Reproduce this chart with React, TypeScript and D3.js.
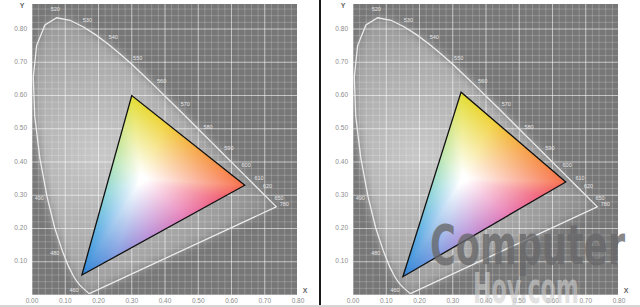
import React, { useMemo } from "react";
import * as d3 from "d3";

const W = 640;
const H = 307;

// CIE 1931 spectral locus (wavelength nm, x, y)
const wavelengths = [380, 400, 420, 430, 440, 450, 460, 465, 470, 475, 480, 485, 490, 495, 500, 505, 510, 515, 520, 525, 530, 535, 540, 545, 550, 555, 560, 565, 570, 575, 580, 585, 590, 595, 600, 605, 610, 620, 630, 640, 650, 680, 700, 780];
const locusX = [0.1741, 0.1733, 0.1714, 0.1689, 0.1644, 0.1566, 0.144, 0.1355, 0.1241, 0.1096, 0.0913, 0.0687, 0.0454, 0.0235, 0.0082, 0.0039, 0.0139, 0.0389, 0.0743, 0.1142, 0.1547, 0.1929, 0.2296, 0.2658, 0.3016, 0.3373, 0.3731, 0.4087, 0.4441, 0.4788, 0.5125, 0.5448, 0.5752, 0.6029, 0.627, 0.6482, 0.6658, 0.6915, 0.7079, 0.719, 0.726, 0.732, 0.7347, 0.7347];
const locusY = [0.005, 0.0048, 0.0051, 0.0069, 0.0109, 0.0177, 0.0297, 0.0399, 0.0578, 0.0868, 0.1327, 0.2007, 0.295, 0.4127, 0.5384, 0.6548, 0.7502, 0.812, 0.8338, 0.8262, 0.8059, 0.7816, 0.7543, 0.7243, 0.6923, 0.6589, 0.6245, 0.5896, 0.5547, 0.5202, 0.4866, 0.4544, 0.4242, 0.3965, 0.3725, 0.3514, 0.334, 0.3083, 0.292, 0.2809, 0.274, 0.268, 0.2653, 0.2653];
const locusLabels = [460, 480, 490, 520, 530, 540, 550, 560, 570, 580, 590, 600, 610, 620, 650, 780];

const xTicks = [0, 0.1, 0.2, 0.3, 0.4, 0.5, 0.6, 0.7, 0.8];
const xTickLabels = ["0.00", "0.10", "0.20", "0.30", "0.40", "0.50", "0.60", "0.70", "0.80"];
const yTicks = [0.1, 0.2, 0.3, 0.4, 0.5, 0.6, 0.7, 0.8];
const yTickLabels = ["0.10", "0.20", "0.30", "0.40", "0.50", "0.60", "0.70", "0.80"];

// gamut triangles [R, G, B]
const gamutLeftX = [0.64, 0.3, 0.15];
const gamutLeftY = [0.33, 0.6, 0.06];
const gamutRightX = [0.64, 0.325, 0.15];
const gamutRightY = [0.34, 0.61, 0.055];
const whitePoint = [0.33, 0.35];

const panelOffsets = [0, 321];

// perimeter colours of the gamut fill (edge G->R, R->B, B->G)
const edgeGR_t = [0, 0.3, 0.6, 1];
const edgeGR_c = ["#e2dd34", "#f0d23a", "#f6a546", "#f7704c"];
const edgeRB_t = [0, 0.15, 0.35, 0.6, 0.8, 1];
const edgeRB_c = ["#f7704c", "#f0627a", "#e77ab4", "#b890d8", "#7f9ce0", "#2e84d6"];
const edgeBG_t = [0, 0.2, 0.45, 0.65, 0.85, 1];
const edgeBG_c = ["#2e84d6", "#52a8e2", "#8cd4d8", "#bae6b0", "#d8e680", "#e2dd34"];

const x = d3.scaleLinear().domain([0, 0.8]).range([32, 298]);
const y = d3.scaleLinear().domain([0, 0.8]).range([295, 29]);
const PLOT = { x0: 32, x1: 297, y0: 4, y1: 295 };

function cross(ax: number, ay: number, bx: number, by: number) {
  return ax * by - ay * bx;
}

function makeGamutImage(gx: number[], gy: number[]) {
  const pts = gx.map((v, i) => [x(v), y(gy[i])]);
  const minX = Math.floor(d3.min(pts, (p) => p[0])!) - 1;
  const maxX = Math.ceil(d3.max(pts, (p) => p[0])!) + 1;
  const minY = Math.floor(d3.min(pts, (p) => p[1])!) - 1;
  const maxY = Math.ceil(d3.max(pts, (p) => p[1])!) + 1;
  const w = maxX - minX;
  const h = maxY - minY;
  const canvas = document.createElement("canvas");
  canvas.width = w;
  canvas.height = h;
  const ctx = canvas.getContext("2d");
  if (!ctx) return null;
  const img = ctx.createImageData(w, h);
  const R = { x: gx[0], y: gy[0] };
  const G = { x: gx[1], y: gy[1] };
  const B = { x: gx[2], y: gy[2] };
  const edges = [
    { a: G, b: R, s: d3.scaleLinear<string>().domain(edgeGR_t).range(edgeGR_c).interpolate(d3.interpolateRgb) },
    { a: R, b: B, s: d3.scaleLinear<string>().domain(edgeRB_t).range(edgeRB_c).interpolate(d3.interpolateRgb) },
    { a: B, b: G, s: d3.scaleLinear<string>().domain(edgeBG_t).range(edgeBG_c).interpolate(d3.interpolateRgb) },
  ];
  const cx = whitePoint[0];
  const cy = whitePoint[1];
  for (let j = 0; j < h; j++) {
    for (let i = 0; i < w; i++) {
      const px = x.invert(minX + i + 0.5);
      const py = y.invert(minY + j + 0.5);
      const ux = px - cx;
      const uy = py - cy;
      let best = Infinity;
      let col = "#ffffff";
      if (Math.abs(ux) + Math.abs(uy) > 1e-9) {
        for (const e of edges) {
          const dx = e.b.x - e.a.x;
          const dy = e.b.y - e.a.y;
          const den = cross(ux, uy, dx, dy);
          if (Math.abs(den) < 1e-12) continue;
          const wx = e.a.x - cx;
          const wy = e.a.y - cy;
          const s = cross(wx, wy, dx, dy) / den;
          const t = cross(wx, wy, ux, uy) / den;
          if (s > 0 && t >= -0.001 && t <= 1.001 && s < best) {
            best = s;
            col = e.s(Math.max(0, Math.min(1, t)));
          }
        }
      }
      const r = best === Infinity ? 0 : 1 / best;
      const m = Math.pow(Math.max(0, Math.min(1, (r - 0.06) / 0.94)), 1.0);
      const c = d3.rgb(col);
      const k = (j * w + i) * 4;
      img.data[k] = 255 - m * (255 - c.r);
      img.data[k + 1] = 255 - m * (255 - c.g);
      img.data[k + 2] = 255 - m * (255 - c.b);
      img.data[k + 3] = 255;
    }
  }
  ctx.putImageData(img, 0, 0);
  return { url: canvas.toDataURL(), x: minX, y: minY, w, h };
}

const locusPts: [number, number][] = locusX.map((v, i) => [x(v), y(locusY[i])]);

function labelPos(wl: number) {
  const i = wavelengths.indexOf(wl);
  const p = locusPts[i];
  const prev = locusPts[Math.max(0, i - 1)];
  const next = locusPts[Math.min(locusPts.length - 1, i + 1)];
  if (wl === 780) {
    return [p[0] + 8, p[1] - 2];
  }
  const dx = next[0] - prev[0];
  const dy = next[1] - prev[1];
  const len = Math.hypot(dx, dy) || 1;
  const nx = dy / len;
  const ny = -dx / len;
  return [p[0] + nx * 8, p[1] + ny * 8];
}

function Panel({ idx, gx, gy, watermark }: { idx: number; gx: number[]; gy: number[]; watermark: boolean }) {
  const img = useMemo(() => makeGamutImage(gx, gy), [gx, gy]);
  const minorX = d3.range(0, 0.801, 0.02);
  const minorY = d3.range(0, 0.88, 0.02);
  const majorX = d3.range(0, 0.801, 0.1);
  const majorY = d3.range(0, 0.88, 0.1);
  const locusPath = d3.line()(locusPts)! + "Z";
  const triPts = gx.map((v, i) => [x(v), y(gy[i])] as [number, number]);
  const triPath = d3.line()(triPts)! + "Z";
  return (
    <g transform={`translate(${panelOffsets[idx]},0)`}>
      <defs>
        <clipPath id={`plot-${idx}`}>
          <rect x={PLOT.x0} y={PLOT.y0} width={PLOT.x1 - PLOT.x0} height={PLOT.y1 - PLOT.y0} />
        </clipPath>
        <clipPath id={`tri-${idx}`}>
          <path d={triPath} />
        </clipPath>
        <radialGradient id={`glow-${idx}`} gradientUnits="userSpaceOnUse" cx={x(0.2)} cy={y(0.42)} r={190}>
          <stop offset="0" stopColor="#fff" stopOpacity={0.6} />
          <stop offset="0.5" stopColor="#fff" stopOpacity={0.38} />
          <stop offset="1" stopColor="#fff" stopOpacity={0.12} />
        </radialGradient>
        <filter id={`blur-${idx}`} x="-20%" y="-20%" width="140%" height="140%">
          <feGaussianBlur stdDeviation={5} />
        </filter>
      </defs>
      <g clipPath={`url(#plot-${idx})`}>
        <rect x={PLOT.x0} y={PLOT.y0} width={PLOT.x1 - PLOT.x0} height={PLOT.y1 - PLOT.y0} fill="#777777" />
        <path d={locusPath} fill={`url(#glow-${idx})`} filter={`url(#blur-${idx})`} />
        {minorX.map((v, i) => (
          <line key={`mx${i}`} x1={x(v)} x2={x(v)} y1={PLOT.y0} y2={PLOT.y1} stroke="#fff" strokeOpacity={0.2} strokeWidth={1} />
        ))}
        {minorY.map((v, i) => (
          <line key={`my${i}`} y1={y(v)} y2={y(v)} x1={PLOT.x0} x2={PLOT.x1} stroke="#fff" strokeOpacity={0.2} strokeWidth={1} />
        ))}
        {majorX.map((v, i) => (
          <line key={`Mx${i}`} x1={x(v)} x2={x(v)} y1={PLOT.y0} y2={PLOT.y1} stroke="#fff" strokeOpacity={0.45} strokeWidth={1} />
        ))}
        {majorY.map((v, i) => (
          <line key={`My${i}`} y1={y(v)} y2={y(v)} x1={PLOT.x0} x2={PLOT.x1} stroke="#fff" strokeOpacity={0.45} strokeWidth={1} />
        ))}
        <path d={locusPath} fill="none" stroke="#ececec" strokeWidth={1.3} />
        {locusLabels.map((wl) => {
          const [lx, ly] = labelPos(wl);
          return (
            <text key={wl} x={lx} y={ly} fontSize={5.5} fill="#e6e6e6" textAnchor="middle" dominantBaseline="middle" fontFamily="Liberation Sans, Arial, sans-serif">
              {wl}
            </text>
          );
        })}
        {img && (
          <image href={img.url} x={img.x} y={img.y} width={img.w} height={img.h} preserveAspectRatio="none" clipPath={`url(#tri-${idx})`} />
        )}
        <path d={triPath} fill="none" stroke="#111" strokeWidth={1.3} strokeLinejoin="miter" />
      </g>
      {yTicks.map((v, i) => (
        <text key={`yt${i}`} x={27} y={y(v)} fontSize={6.5} fill="#8c8c8c" textAnchor="end" dominantBaseline="middle" fontFamily="Liberation Sans, Arial, sans-serif">
          {yTickLabels[i]}
        </text>
      ))}
      {xTicks.map((v, i) => (
        <text key={`xt${i}`} x={x(v)} y={301} fontSize={6.5} fill="#8c8c8c" textAnchor="middle" dominantBaseline="middle" fontFamily="Liberation Sans, Arial, sans-serif">
          {xTickLabels[i]}
        </text>
      ))}
      <text x={22} y={6} fontSize={7} fontWeight="bold" fill="#666" textAnchor="middle" dominantBaseline="middle" fontFamily="Liberation Sans, Arial, sans-serif">
        Y
      </text>
      <text x={305} y={291} fontSize={7} fontWeight="bold" fill="#666" textAnchor="middle" dominantBaseline="middle" fontFamily="Liberation Sans, Arial, sans-serif">
        X
      </text>
      {watermark && (
        <g fontFamily="DejaVu Sans Condensed, DejaVu Sans, sans-serif" fontWeight="bold">
          <text x={109} y={264} fontSize={56} textLength={195} lengthAdjust="spacingAndGlyphs" fill="#676769" fillOpacity={0.8}>
            Computer
          </text>
          <text x={152} y={303} fontSize={42} textLength={106} lengthAdjust="spacingAndGlyphs" fill="#cfcfcf" fillOpacity={0.6}>
            Hoy.com
          </text>
        </g>
      )}
    </g>
  );
}

export default function App() {
  return (
    <svg width={W} height={H} viewBox={`0 0 ${W} ${H}`} style={{ position: "absolute", left: 0, top: 0, background: "#fff" }}>
      <rect x={0} y={0} width={W} height={H} fill="#ffffff" />
      <Panel idx={0} gx={gamutLeftX} gy={gamutLeftY} watermark={false} />
      <Panel idx={1} gx={gamutRightX} gy={gamutRightY} watermark={true} />
      <rect x={319} y={0} width={2} height={H} fill="#1a1a1a" />
      <rect x={0} y={305} width={W} height={2} fill="#d4d4d4" />
    </svg>
  );
}
